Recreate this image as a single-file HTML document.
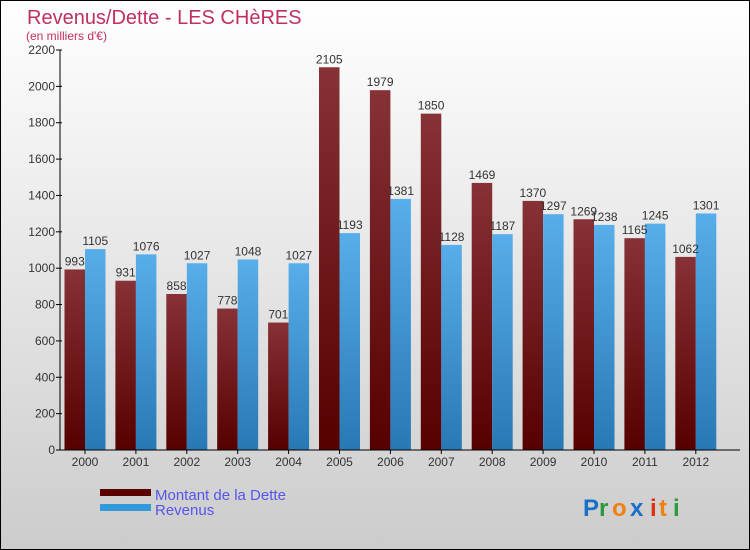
<!DOCTYPE html>
<html><head><meta charset="utf-8">
<style>
body{margin:0;}
svg{display:block;font-family:"Liberation Sans",sans-serif;}
</style></head>
<body>
<svg id="chart" width="750" height="550" viewBox="0 0 750 550" xmlns="http://www.w3.org/2000/svg">
<defs>
<linearGradient id="bg" x1="0" y1="0" x2="0" y2="1"><stop offset="0" stop-color="#ffffff"/><stop offset="1" stop-color="#cccccc"/></linearGradient>
<linearGradient id="gd" x1="0" y1="0" x2="0" y2="1"><stop offset="0" stop-color="#863236"/><stop offset="1" stop-color="#560000"/></linearGradient>
<linearGradient id="gr" x1="0" y1="0" x2="0" y2="1"><stop offset="0" stop-color="#58aeea"/><stop offset="1" stop-color="#2878b4"/></linearGradient>
</defs>
<rect x="0.5" y="0.5" width="749" height="549" fill="url(#bg)" stroke="#000"/>
<text x="27" y="24" font-size="20" fill="#c0305e">Revenus/Dette - LES CHèRES</text>
<text x="26" y="40" font-size="12" fill="#c0305e">(en milliers d'€)</text>
<g id="grid"></g>
<g id="bars"></g>
<g id="axes"></g>
<rect x="100" y="489" width="51" height="7" fill="#5a0000"/>
<text x="155" y="500" font-size="15" fill="#5555ee">Montant de la Dette</text>
<rect x="100" y="504" width="51" height="7" fill="#3399dd"/>
<text x="155" y="515" font-size="15" fill="#5555ee">Revenus</text>
<g font-size="24" font-weight="bold">
<text x="583" y="516" fill="#1a6fc8">P</text><text x="599" y="516" fill="#2a9a3a">r</text><text x="612" y="516" fill="#f08010">o</text><text x="630" y="516" fill="#1a6fc8">x</text><text x="650" y="516" fill="#e03010">i</text><text x="659" y="516" fill="#f08010">t</text><text x="673" y="516" fill="#2a9a3a">i</text>
</g>
</svg>
<script>
const years=["2000","2001","2002","2003","2004","2005","2006","2007","2008","2009","2010","2011","2012"];
const debt=[993,931,858,778,701,2105,1979,1850,1469,1370,1269,1165,1062];
const revenue=[1105,1076,1027,1048,1027,1193,1381,1128,1187,1297,1238,1245,1301];
const yTicks=[0,200,400,600,800,1000,1200,1400,1600,1800,2000,2200];
const NS="http://www.w3.org/2000/svg";
const y0=450,yTop=50,yMax=2200,x0=85,step=50.9,bw=20.5;
function yS(v){return y0-(v/yMax)*(y0-yTop);}
function xS(i){return x0+i*step;}
function mk(tag,attrs,parent,text){const e=document.createElementNS(NS,tag);for(const k in attrs)e.setAttribute(k,attrs[k]);if(text!==undefined)e.textContent=text;parent.appendChild(e);return e;}
const bars=document.getElementById('bars'),axes=document.getElementById('axes');
years.forEach((yr,i)=>{
  const c=xS(i);
  const d=mk('rect',{x:c-bw,y:yS(debt[i]),width:bw,height:y0-yS(debt[i]),fill:'url(#gd)'},bars);
  
  
  const r=mk('rect',{x:c,y:yS(revenue[i]),width:bw,height:y0-yS(revenue[i]),fill:'url(#gr)'},bars);
  
  
  const dl=mk('text',{x:c-bw/2,y:yS(debt[i])-4,'font-size':12,fill:'#333','text-anchor':'middle'},bars,debt[i]);
  
  
  const rl=mk('text',{x:c+bw/2,y:yS(revenue[i])-4,'font-size':12,fill:'#333','text-anchor':'middle'},bars,revenue[i]);
  
  
  const xl=mk('text',{x:c,y:466,'font-size':12,fill:'#333','text-anchor':'middle'},axes,yr);
  
  
  mk('line',{x1:c,y1:y0,x2:c,y2:y0+4,stroke:'#000'},axes);
});
yTicks.forEach(t=>{
  const y=yS(t);
  mk('line',{x1:56,y1:y,x2:62,y2:y,stroke:'#000'},axes);
  const l=mk('text',{x:55,y:y+4,'font-size':12,fill:'#333','text-anchor':'end'},axes,t);
  
  
});
const ya=mk('line',{x1:60,y1:yTop,x2:60,y2:y0,stroke:'#000'},axes);


const xa=mk('line',{x1:60,y1:y0,x2:740,y2:y0,stroke:'#000'},axes);


</script>
</body></html>
